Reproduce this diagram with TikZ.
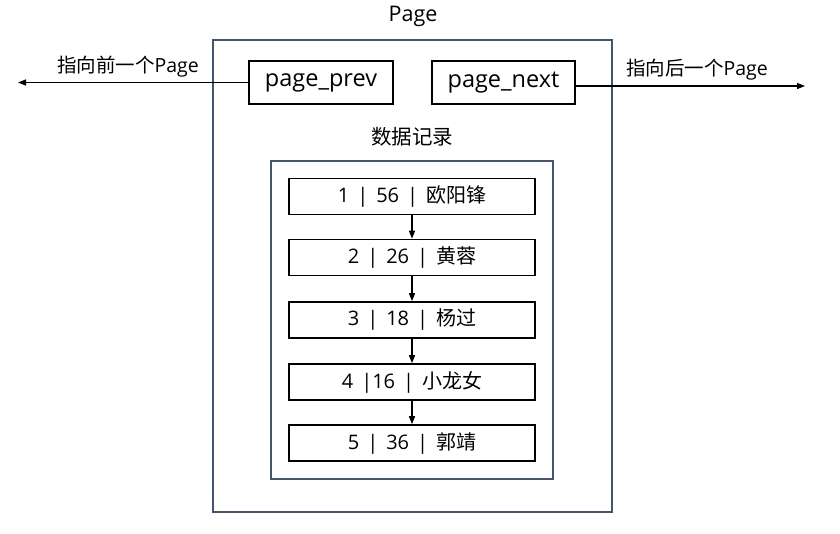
\documentclass[tikz,border=0pt]{standalone}
\usepackage{fontspec}
\setmainfont{Open Sans}
\newfontfamily\cjk{Noto Sans CJK SC}
\usetikzlibrary{arrows.meta}
\definecolor{frame}{RGB}{68,84,106}
\newcommand{\vsep}{\hspace{8pt}|\hspace{8pt}}
\begin{document}
\begin{tikzpicture}[x=1pt,y=-1pt,
  framebox/.style={draw=frame,line width=1.5pt,inner sep=0pt},
  ptrbox/.style={draw=black,line width=1.6pt,minimum width=144pt,minimum height=43pt,inner sep=0pt,font=\fontsize{23.5}{26}\selectfont},
  recbox/.style={draw=black,line width=1.6pt,minimum width=246pt,minimum height=36pt,inner sep=0pt,font=\fontsize{20}{23}\selectfont},
  lbl/.style={inner sep=0pt,font=\fontsize{19.5}{22}\selectfont},
  conn/.style={draw=black,line width=1.4pt,-{Triangle[length=8pt,width=6pt]}}
]
\path[use as bounding box] (0,0) rectangle (840,533);
\node[framebox,minimum width=399pt,minimum height=472pt] (page) at (412.5,276) {};
\node[lbl,font=\fontsize{21.5}{24}\selectfont] (pagelbl) at (413,16) {Page};
\node[ptrbox] (pp) at (321,82.5) {page\_prev};
\node[ptrbox,minimum width=143pt] (pn) at (503.5,82.5) {page\_next};
\coordinate (lend) at (18,82.5);
\coordinate (rend) at (805,86);
\draw[conn] (pp.west) -- (lend);
\draw[conn] ([yshift=-3.5pt]pn.east) -- (rend);
\node[lbl] (ll) at (128,67) {{\cjk 指向前一个}Page};
\node[lbl] (rl) at (697,70) {{\cjk 指向后一个}Page};
\node[lbl,font=\fontsize{20.5}{23}\selectfont] (dl) at (412,137) {\cjk 数据记录};
\node[framebox,minimum width=282pt,minimum height=318pt] (data) at (412,320) {};
\node[recbox] (r1) at (412,196.5) {1\vsep 56\vsep{\cjk 欧阳锋}};
\node[recbox] (r2) at (412,257.5) {2\vsep 26\vsep{\cjk 黄蓉}};
\node[recbox] (r3) at (412,320) {3\vsep 18\vsep{\cjk 杨过}};
\node[recbox] (r4) at (412,382) {4\hspace{8pt}|16\vsep{\cjk 小龙女}};
\node[recbox] (r5) at (412,443) {5\vsep 36\vsep{\cjk 郭靖}};
\foreach \a/\b in {r1/r2,r2/r3,r3/r4,r4/r5}
  \draw[conn] (\a) -- (\b);
\end{tikzpicture}
\end{document}
